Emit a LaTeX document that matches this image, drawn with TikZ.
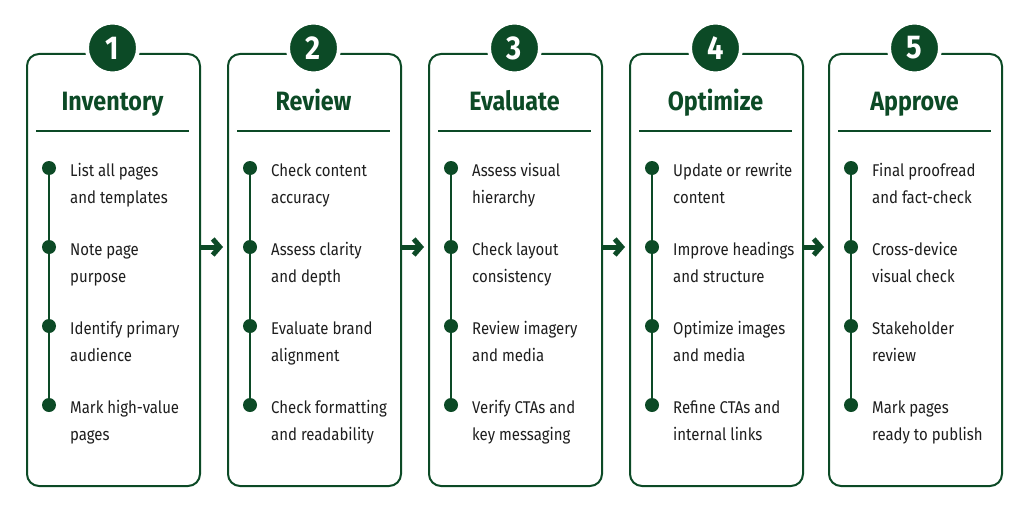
\documentclass[tikz,border=0pt]{standalone}
\usepackage{fontspec}
\setmainfont{Fira Sans}[FakeStretch=0.88]
\usetikzlibrary{arrows.meta}
\definecolor{dg}{RGB}{12,74,38}
\definecolor{txt}{RGB}{30,30,30}
\begin{document}
\begin{tikzpicture}[x=1pt,y=-1pt,
  stagebox/.style={draw=dg, line width=2pt, rounded corners=12pt, minimum width=173pt, minimum height=432pt, anchor=north west, inner sep=0pt},
  badge/.style={circle, fill=dg, draw=white, line width=4pt, minimum size=51pt, inner sep=0pt, text=white, font=\bfseries\fontsize{33}{33}\selectfont},
  stitle/.style={anchor=base, text=dg, inner sep=0pt, font=\bfseries\fontsize{26.5}{26.5}\selectfont},
  item/.style={anchor=base west, align=left, inner sep=0pt, text=txt, font=\fontsize{17}{27}\selectfont},
  dot/.style={circle, fill=dg, minimum size=14pt, inner sep=0pt},
  rule/.style={draw=dg, line width=2pt},
  vline/.style={draw=dg, line width=2pt},
  conn/.style={draw=dg, line width=5pt, -{Straight Barb[length=7pt,width=16pt]}}]
\path[use as bounding box, fill=white] (0,0) rectangle (1024,511);
\foreach \i/\L/\T/\a/\b/\c/\d in {
  1/26/Inventory/{List all pages\\and templates}/{Note page\\purpose}/{Identify primary\\audience}/{Mark high-value\\pages},
  2/227/Review/{Check content\\accuracy}/{Assess clarity\\and depth}/{Evaluate brand\\alignment}/{Check formatting\\and readability},
  3/428/Evaluate/{Assess visual\\hierarchy}/{Check layout\\consistency}/{Review imagery\\and media}/{Verify CTAs and\\key messaging},
  4/629/Optimize/{Update or rewrite\\content}/{Improve headings\\and structure}/{Optimize images\\and media}/{Refine CTAs and\\internal links},
  5/828/Approve/{Final proofread\\and fact-check}/{Cross-device\\visual check}/{Stakeholder\\review}/{Mark pages\\ready to publish}}{
  \node[stagebox] (box\i) at (\L,53) {};
  \node[badge] (badge\i) at (\L+86.5,48) {\i};
  \node[stitle] (title\i) at (\L+86.5,110) {\T};
  \draw[rule] (\L+10,131) -- (\L+163,131);
  \coordinate (d\i-1) at (\L+23,168);
  \coordinate (d\i-2) at (\L+23,247);
  \coordinate (d\i-3) at (\L+23,326);
  \coordinate (d\i-4) at (\L+23,405);
  \draw[vline] (d\i-1) -- (d\i-4);
  \node[dot] (dot\i-1) at (d\i-1) {};
  \node[dot] (dot\i-2) at (d\i-2) {};
  \node[dot] (dot\i-3) at (d\i-3) {};
  \node[dot] (dot\i-4) at (d\i-4) {};
  \node[item] (item\i-1) at (\L+44,203) {\a};
  \node[item] (item\i-2) at (\L+44,282) {\b};
  \node[item] (item\i-3) at (\L+44,361) {\c};
  \node[item] (item\i-4) at (\L+44,440) {\d};
  \coordinate (out\i) at (\L+175,247);
  \coordinate (in\i) at (\L-4,247);
}
\foreach \i/\j in {1/2,2/3,3/4,4/5}{
  \draw[conn] (out\i) -- (in\j);
}
\end{tikzpicture}
\end{document}
